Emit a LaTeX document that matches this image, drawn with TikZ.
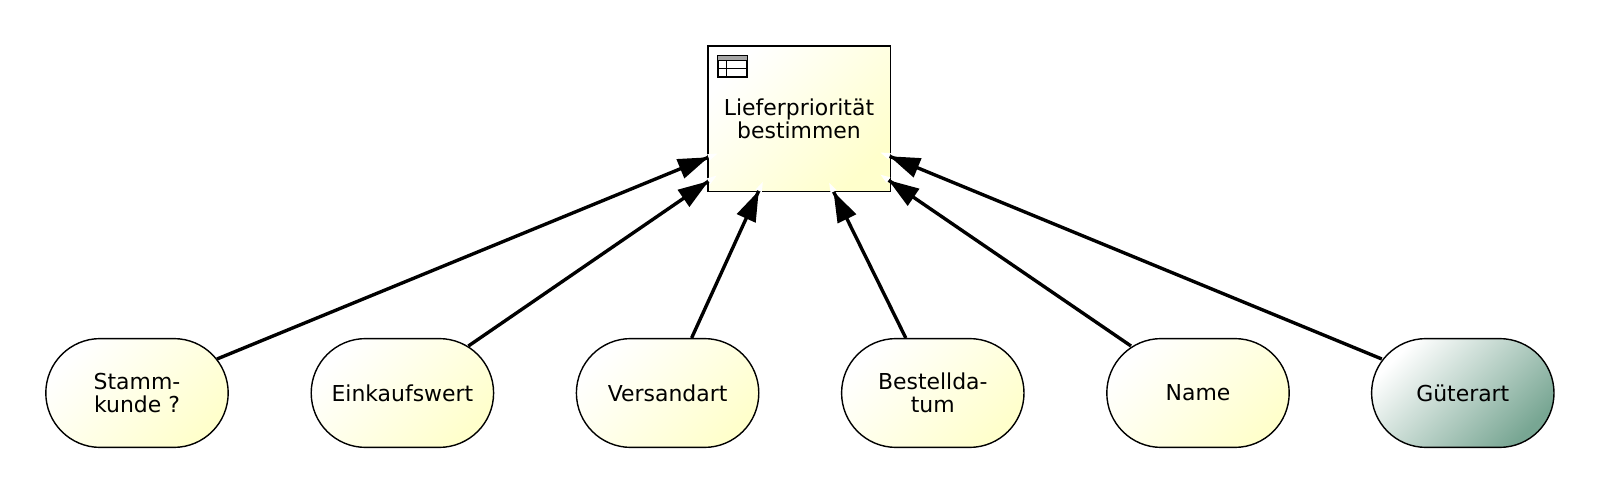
\documentclass[tikz,border=0pt]{standalone}
\usepackage{fontspec}
\setmainfont{DejaVu Sans}
\usetikzlibrary{arrows.meta,positioning,calc}
\definecolor{paleyellow}{HTML}{FFFFCC}
\definecolor{seagreen}{HTML}{78A693}

\tikzset{
  decision/.style={draw, line width=1pt, minimum width=4.56cm, minimum height=3.64cm,
    left color=white, right color=paleyellow, shading angle=45,
    align=center, font=\fontsize{15.6}{16}\selectfont},
  attr/.style={draw, line width=1pt, rounded corners=1.36cm, minimum width=4.56cm, minimum height=2.72cm,
    left color=white, right color=paleyellow, shading angle=45,
    align=center, font=\fontsize{15.6}{16}\selectfont},
  attrgreen/.style={attr, right color=seagreen, shading angle=45},
  grid line/.style={line width=0.6pt},
  link/.style={line width=2.4pt, -{Triangle[length=0.76cm,width=0.5cm]Triangle[white,length=0.28cm,width=0.14cm,sep=-0.02cm]}}
}

\begin{document}
\begin{tikzpicture}
  \useasboundingbox (0,0) rectangle (40,12.35);

  \node[decision] (prio) at (19.975,9.38) {Lieferpriorität\\bestimmen};

  \node[attr] (stamm) at (3.425,2.525) {Stamm-\\kunde ?};
  \node[attr] (wert) at (10.06,2.525) {Einkaufswert};
  \node[attr] (art) at (16.69,2.525) {Versandart};
  \node[attr] (datum) at (23.32,2.525) {Bestellda-\\tum};
  \node[attr] (name) at (29.95,2.525) {Name};
  \node[attrgreen] (gut) at (36.57,2.525) {Güterart};

  % table icon
  \coordinate (icon) at ($(prio.north west)+(0.26,-0.26)$);
  \node[grid line, draw, fill=white, minimum width=0.72cm, minimum height=0.52cm, inner sep=0pt, anchor=north west] (tbl) at (icon) {};
  \fill[gray!70] (tbl.north west) rectangle ($(tbl.north east)+(0,-0.13)$);
  \draw[grid line] (tbl.north west) rectangle (tbl.south east);
  \draw[grid line] ($(tbl.north west)+(0,-0.13)$) -- ($(tbl.north east)+(0,-0.13)$);
  \draw[grid line] ($(tbl.west)+(0,-0.05)$) -- ($(tbl.east)+(0,-0.05)$);
  \draw[grid line] ($(tbl.north west)+(0.233,-0.13)$) -- ($(tbl.south west)+(0.233,0)$);

  \coordinate (in1) at ($(prio.south west)+(0.275,0.975)$);
  \coordinate (in2) at ($(prio.south west)+(0.25,0.425)$);
  \coordinate (in3) at ($(prio.south west)+(1.4,0.275)$);
  \coordinate (in4) at ($(prio.south east)+(-1.55,0.25)$);
  \coordinate (in5) at ($(prio.south east)+(-0.275,0.45)$);
  \coordinate (in6) at ($(prio.south east)+(-0.275,1.0)$);

  \coordinate (out1) at ($(stamm)+(2.0,0.85)$);
  \coordinate (out2) at ($(wert)+(1.65,1.175)$);
  \coordinate (out3) at ($(art)+(0.6,1.375)$);
  \coordinate (out4) at ($(datum)+(-0.675,1.375)$);
  \coordinate (out5) at ($(name)+(-1.675,1.175)$);
  \coordinate (out6) at ($(gut)+(-2.025,0.85)$);

  \draw[link] (out1) -- (in1);
  \draw[link] (out2) -- (in2);
  \draw[link] (out3) -- (in3);
  \draw[link] (out4) -- (in4);
  \draw[link] (out5) -- (in5);
  \draw[link] (out6) -- (in6);
\end{tikzpicture}
\end{document}
